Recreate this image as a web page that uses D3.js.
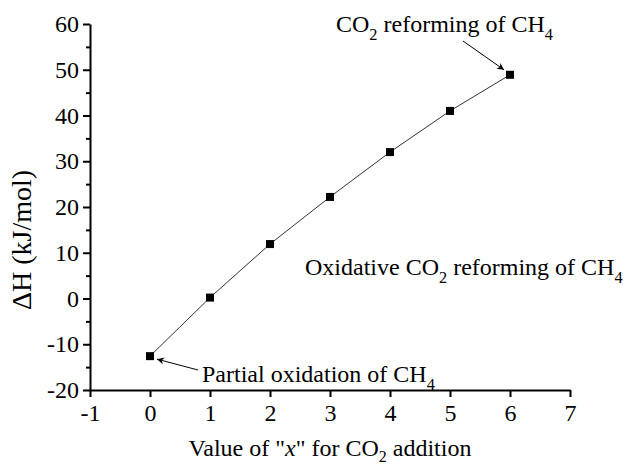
<!DOCTYPE html>
<html>
<head>
<meta charset="utf-8">
<script src="https://cdn.jsdelivr.net/npm/d3@7"></script>
<style>
  body { margin: 0; background: #fff; }
  svg text { font-family: "Liberation Serif", "Times New Roman", serif; fill: #000; }
</style>
</head>
<body>
<div id="chart"></div>
<script>
// data
var xValues = [0, 1, 2, 3, 4, 5, 6];
var dH = [-12.6, 0.2, 11.9, 22.2, 32.0, 41.0, 48.9];
var xTicks = [-1, 0, 1, 2, 3, 4, 5, 6, 7];
var yTicks = [-20, -10, 0, 10, 20, 30, 40, 50, 60];

var FONT = "Liberation Serif";
var W = 627, H = 466;
var margin = {top: 24, right: 57, bottom: 76, left: 90},
    width = W - margin.left - margin.right,
    height = H - margin.top - margin.bottom;

var x = d3.scaleLinear().domain([-1, 7]).range([0, width]);
var y = d3.scaleLinear().domain([-20, 60]).range([height, 0]);
var fmt = function(d) { return String(d); };   // plain hyphen minus like the original

var svg = d3.select("#chart").append("svg")
    .attr("width", W)
    .attr("height", H)
    .attr("font-family", FONT);

var defs = svg.append("defs");
defs.append("marker")
    .attr("id", "arrow")
    .attr("viewBox", "0 0 10 10")
    .attr("refX", 10).attr("refY", 5)
    .attr("markerWidth", 10).attr("markerHeight", 7)
    .attr("markerUnits", "userSpaceOnUse")
    .attr("orient", "auto")
  .append("path")
    .attr("d", "M0,0 L10,5 L0,10 L3,5 Z")
    .attr("fill", "#000");

var g = svg.append("g")
    .attr("transform", "translate(" + margin.left + "," + margin.top + ")");

// minor y ticks
g.append("g")
    .call(d3.axisLeft(y).tickValues(d3.range(-15, 60, 10)).tickSize(4).tickFormat(""))
    .call(function(a) { a.select(".domain").remove(); })
    .selectAll("line").attr("stroke-width", 2);

// y axis
var yAxis = g.append("g")
    .call(d3.axisLeft(y).tickValues(yTicks).tickSize(7).tickSizeOuter(0).tickPadding(4).tickFormat(fmt))
    .attr("font-family", FONT).attr("font-size", 24);
yAxis.select(".domain").attr("stroke-width", 2);
yAxis.selectAll("line").attr("stroke-width", 2);
yAxis.selectAll("text").style("font-family", FONT).style("font-size", "24px");

// x axis
var xAxis = g.append("g")
    .attr("transform", "translate(0," + height + ")")
    .call(d3.axisBottom(x).tickValues(xTicks).tickSize(7).tickSizeOuter(0).tickPadding(7).tickFormat(fmt))
    .attr("font-family", FONT).attr("font-size", 24);
xAxis.select(".domain").attr("stroke-width", 2);
xAxis.selectAll("line").attr("stroke-width", 2);
xAxis.selectAll("text").style("font-family", FONT).style("font-size", "24px");

// line + markers
var pts = xValues.map(function(v, i) { return [v, dH[i]]; });
g.append("path")
    .datum(pts)
    .attr("fill", "none")
    .attr("stroke", "#333")
    .attr("stroke-width", 1)
    .attr("d", d3.line().x(function(d) { return x(d[0]); }).y(function(d) { return y(d[1]); }));

g.selectAll(".pt")
    .data(pts)
  .enter().append("rect")
    .attr("class", "pt")
    .attr("x", function(d) { return x(d[0]) - 4; })
    .attr("y", function(d) { return y(d[1]) - 4; })
    .attr("width", 8)
    .attr("height", 8)
    .attr("fill", "#000");

// text helper with subscripts: parts = [[text, isSub], ...]
function label(parent, px, py, parts, size) {
  var t = parent.append("text")
      .attr("x", px).attr("y", py)
      .style("font-family", FONT)
      .style("font-size", size + "px");
  var down = false;
  parts.forEach(function(p) {
    var s = t.append("tspan").text(p[0]);
    if (p[1]) { s.attr("dy", 8).style("font-size", (size * 0.68) + "px"); down = true; }
    else if (down) { s.attr("dy", -8); down = false; }
  });
  return t;
}

// axis titles
var xt = svg.append("text")
    .attr("x", 330).attr("y", 456)
    .attr("text-anchor", "middle")
    .style("font-family", FONT)
    .style("font-size", "24px");
xt.append("tspan").text("Value of \"");
xt.append("tspan").style("font-style", "italic").text("x");
xt.append("tspan").text("\" for CO");
xt.append("tspan").attr("dy", 6).style("font-size", "16px").text("2");
xt.append("tspan").attr("dy", -6).text(" addition");

svg.append("text")
    .attr("transform", "translate(31,240) rotate(-90)")
    .attr("text-anchor", "middle")
    .style("font-family", FONT)
    .style("font-size", "28px")
    .text("\u0394H (kJ/mol)");

// annotations
label(svg, 336, 32, [["CO", 0], ["2", 1], [" reforming of CH", 0], ["4", 1]], 24);
label(svg, 305, 275, [["Oxidative CO", 0], ["2", 1], [" reforming of CH", 0], ["4", 1]], 24);
label(svg, 202, 382, [["Partial oxidation of CH", 0], ["4", 1]], 24);

svg.append("line")
    .attr("x1", 463).attr("y1", 41)
    .attr("x2", margin.left + x(6) - 6).attr("y2", margin.top + y(dH[6]) - 5)
    .attr("stroke", "#000").attr("stroke-width", 1)
    .attr("marker-end", "url(#arrow)");

svg.append("line")
    .attr("x1", 198).attr("y1", 370)
    .attr("x2", margin.left + x(0) + 7).attr("y2", margin.top + y(dH[0]) + 3)
    .attr("stroke", "#000").attr("stroke-width", 1)
    .attr("marker-end", "url(#arrow)");
</script>
</body>
</html>
